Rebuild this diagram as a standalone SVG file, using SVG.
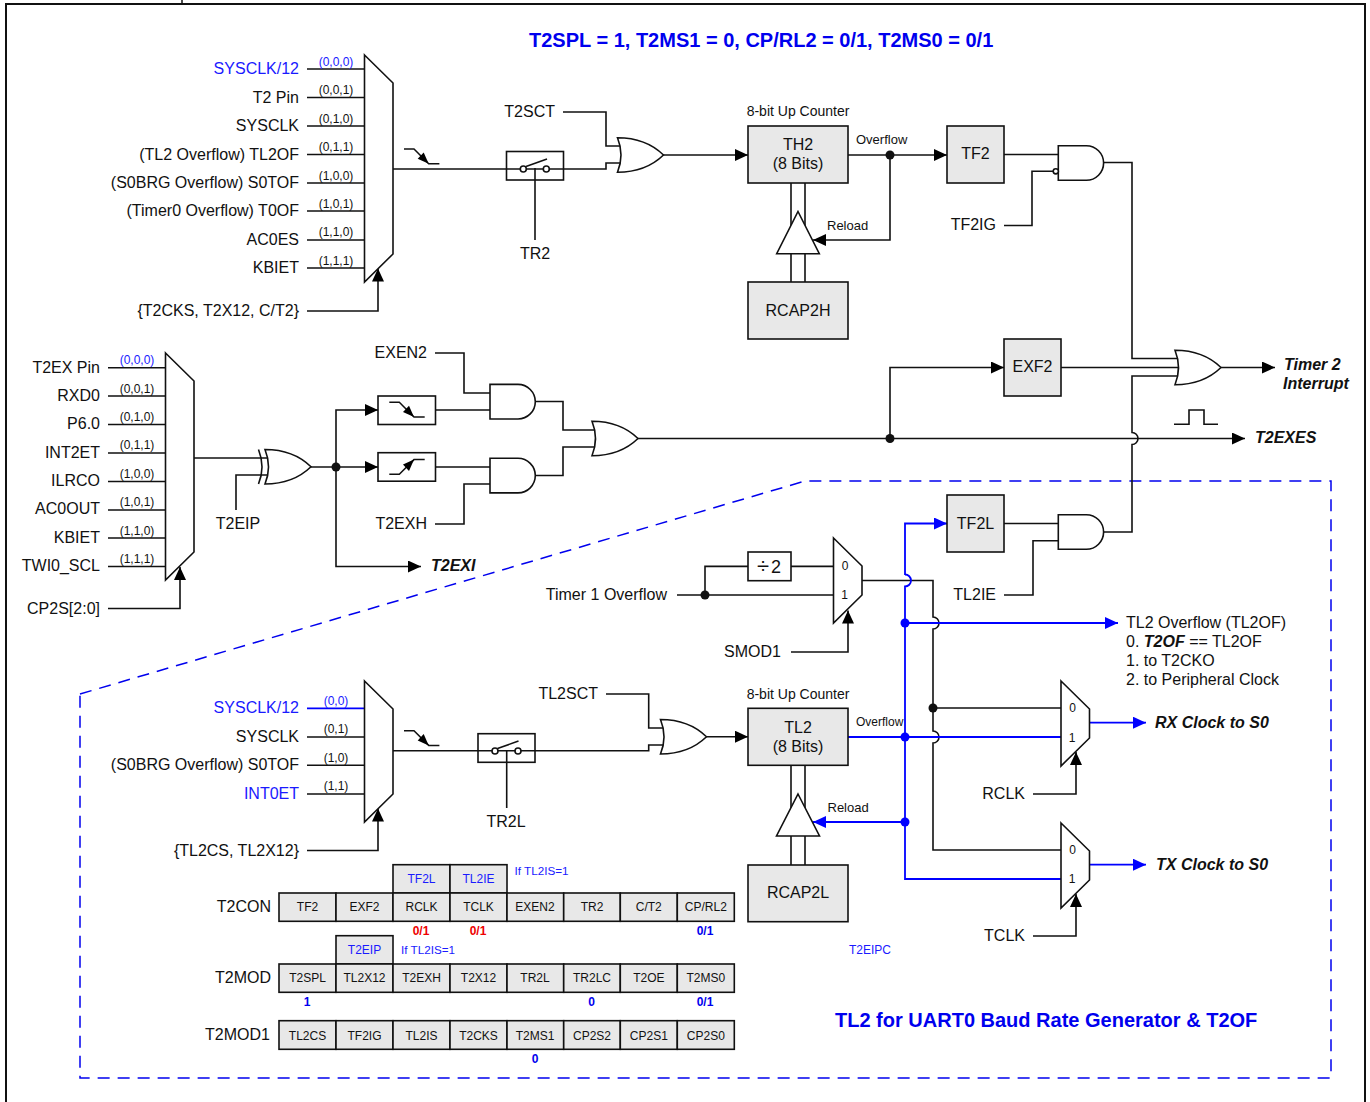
<svg xmlns="http://www.w3.org/2000/svg" width="1370" height="1102" viewBox="0 0 1370 1102">
<style>
text{font-family:"Liberation Sans",Arial,sans-serif;font-size:16px;fill:#111}
.r{text-anchor:end}.m{text-anchor:middle}
.s{font-size:12px}.o{font-size:13px}
.bl{fill:#1a1aff}
.t{font-size:20px;font-weight:bold;fill:#0000ee}
.bi{font-weight:bold;font-style:italic}
.c{font-size:12px;text-anchor:middle}
.v{font-size:12px;font-weight:bold;text-anchor:middle;fill:#0000ee}
.red{fill:#ee0000}
.w{fill:none;stroke:#111;stroke-width:1.6}
.wb{fill:none;stroke:#0000ff;stroke-width:1.8}
.a{marker-end:url(#ak)}.ab{marker-end:url(#ab)}
.g{fill:#fff;stroke:#111;stroke-width:1.6}
.reg{fill:#e8e8e8;stroke:#111;stroke-width:1.6}
.dk{fill:#111}.db{fill:#0000ff}
</style>
<defs>
<marker id="ak" markerUnits="userSpaceOnUse" markerWidth="14" markerHeight="14" refX="13" refY="6" orient="auto"><path d="M0,0L13,6L0,12z" fill="#000"/></marker>
<marker id="ab" markerUnits="userSpaceOnUse" markerWidth="14" markerHeight="14" refX="13" refY="6" orient="auto"><path d="M0,0L13,6L0,12z" fill="#0000ff"/></marker>
<path id="or" d="M0,0C21,0 36,7.5 46,17.3C36,27 21,34.5 0,34.5Q7,17.3 0,0Z"/>
<path id="and" d="M0,0H28A17.3,17.3 0 0 1 28,34.6H0Z"/>
<g id="fall"><polyline points="0,0 10,0 24.7,14.7 35.4,14.7" fill="none" stroke="#111" stroke-width="1.5"/><path d="M24.7,14.7L13.7,9.7L19.7,3.4Z" fill="#000"/></g>
<path id="mux8" d="M0,0L28.5,28V199L0,227Z"/>
<path id="mux4" d="M0,0L28.5,28V113L0,141Z"/>
<path id="mux2" d="M0,0L28.5,28V57L0,85Z"/>
</defs>
<rect width="1370" height="1102" fill="#fff"/>
<g id="frame">
<path d="M6,1102V4H1365V1102" fill="none" stroke="#111" stroke-width="2"/>
<path d="M182,0V4" fill="none" stroke="#111" stroke-width="1.5"/>
<path d="M80,694L805,481H1331V1078H80Z" fill="none" stroke="#0000ee" stroke-width="1.5" stroke-dasharray="12 8"/>
</g>
<g id="connectors">
<path class="w" d="M307,97.5H364M307,126H364M307,154.5H364M307,183H364M307,211H364M307,240H364M307,268H364M307,69H364"/>
<path class="w a" d="M307,311H378V268.5"/>
<path class="w" d="M393,169H606V163H622"/>
<path class="w" d="M563,112H606V146H622"/>
<path class="w a" d="M663,155H748"/>
<path class="w" d="M535,168V240"/>
<path class="w a" d="M848,155H947"/>
<path class="w a" d="M890,155V240H813"/>
<path class="w" d="M791,183V282M805,183V282"/>
<path class="w" d="M1004,154.5H1060"/>
<path class="w" d="M1004,225.5H1032V171.3H1053"/>
<path class="w" d="M1103,162.5H1132V358.5H1179"/>
<path class="w" d="M1061,367.5H1181"/>
<path class="w a" d="M1221,367.5H1275"/>
<path class="w" d="M1179,376H1132V432.5A6,6 0 0 1 1132,444.5V532H1104"/>
<path class="w" d="M1174,424.3H1189V410H1204V424.3H1218"/>
<path class="w" d="M108,367.7H165M108,396H165M108,424.5H165M108,453H165M108,481.5H165M108,510H165M108,538H165M108,566.5H165"/>
<path class="w a" d="M108,608.5H180V567"/>
<path class="w" d="M194,458H270"/>
<path class="w" d="M236,510V475H270"/>
<path class="w a" d="M310,467H378"/>
<path class="w a" d="M336,467V410H378"/>
<path class="w a" d="M336,467V566.5H421"/>
<path class="w" d="M436,410H492M436,467H492"/>
<path class="w" d="M435,353H464V393H492"/>
<path class="w" d="M435,524H464V484H492"/>
<path class="w" d="M534,401.5H563V430H598"/>
<path class="w" d="M534,475.5H563V447H598"/>
<path class="w a" d="M637,438.5H1245"/>
<path class="w a" d="M890,438.5V367.5H1004"/>
<path class="w" d="M1004,523.5H1060"/>
<path class="w" d="M1004,595H1033V540.7H1060"/>
<path class="w" d="M677,595H833M705,595V566.4H748M791,566.4H833"/>
<path class="w" d="M862,580.5H933V617A6,6 0 0 1 933,629V731A6,6 0 0 1 933,743V850H1061M933,708H1061"/>
<path class="w a" d="M791,652H848V610.5"/>
<path class="wb ab" d="M905,575V523.5H947"/>
<path class="wb" d="M905,574.5A6,6 0 0 1 905,586.5V879H1061"/>
<path class="wb ab" d="M905,623H1118"/>
<path class="wb" d="M848,737H1061"/>
<path class="wb ab" d="M905,822H813"/>
<path class="wb ab" d="M1090,722.7H1146"/>
<path class="wb ab" d="M1090,864.7H1146"/>
<path class="w a" d="M1033,794H1076V752"/>
<path class="w a" d="M1033,936H1076V894"/>
<path class="wb" d="M307,708.3H364"/>
<path class="w" d="M307,737H364M307,765.3H364M307,794H364"/>
<path class="w a" d="M307,850.5H378V808.5"/>
<path class="w" d="M393,750.7H648.7V745H664"/>
<path class="w" d="M606,694H648.7V728H664"/>
<path class="w a" d="M705,736.7H748"/>
<path class="w" d="M506.7,750V808"/>
<path class="w" d="M791,765V865M805,765V865"/>
<circle class="dk" cx="890" cy="155" r="4.5"/>
<circle class="dk" cx="890" cy="438.5" r="4.5"/>
<circle class="dk" cx="336" cy="467" r="4.5"/>
<circle class="dk" cx="705" cy="595" r="4.5"/>
<circle class="dk" cx="933" cy="708" r="4.5"/>
<circle class="db" cx="905" cy="623" r="4.5"/>
<circle class="db" cx="905" cy="737" r="4.5"/>
<circle class="db" cx="905" cy="822" r="4.5"/>
</g>
<g id="title"><text class="t" x="529" y="47">T2SPL = 1, T2MS1 = 0, CP/RL2 = 0/1, T2MS0 = 0/1</text></g>
<g id="mux-t2-clock">
<use href="#mux8" x="364.5" y="55" class="g"/>
<text class="r bl" x="299" y="74">SYSCLK/12</text>
<text class="r" x="299" y="103">T2 Pin</text>
<text class="r" x="299" y="131">SYSCLK</text>
<text class="r" x="299" y="159.5">(TL2 Overflow) TL2OF</text>
<text class="r" x="299" y="188">(S0BRG Overflow) S0TOF</text>
<text class="r" x="299" y="216">(Timer0 Overflow) T0OF</text>
<text class="r" x="299" y="245">AC0ES</text>
<text class="r" x="299" y="273">KBIET</text>
<text class="r" x="299" y="316">{T2CKS, T2X12, C/T2}</text>
<text class="s m bl" x="336" y="66">(0,0,0)</text>
<text class="s m" x="336" y="94">(0,0,1)</text>
<text class="s m" x="336" y="123">(0,1,0)</text>
<text class="s m" x="336" y="151">(0,1,1)</text>
<text class="s m" x="336" y="180">(1,0,0)</text>
<text class="s m" x="336" y="208">(1,0,1)</text>
<text class="s m" x="336" y="236">(1,1,0)</text>
<text class="s m" x="336" y="265">(1,1,1)</text>
<use href="#fall" x="404" y="149"/>
</g>
<g id="switch-tr2">
<rect class="g" x="506.5" y="151.5" width="57" height="28.5" style="fill:none"/>
<circle class="g" cx="523.3" cy="169" r="3"/><circle class="g" cx="546.3" cy="169" r="3"/>
<path class="w" d="M526,166.5L547,159"/>
<text class="m" x="535" y="258.5">TR2</text>
</g>
<g id="or-t2"><use href="#or" x="617.5" y="137.7" class="g"/><text class="r" x="555" y="117">T2SCT</text></g>
<g id="th2">
<text class="m" style="font-size:14px" x="798" y="116">8-bit Up Counter</text>
<rect class="reg" x="748" y="126" width="100" height="57"/>
<text class="m" x="798" y="150">TH2</text><text class="m" x="798" y="169">(8 Bits)</text>
<text class="o" x="856" y="144">Overflow</text>
</g>
<g id="reload-h">
<path class="g" d="M798,211.5L819.3,253.7H776.7Z"/>
<text class="o" x="827" y="230">Reload</text>
</g>
<g id="rcap2h"><rect class="reg" x="748" y="282" width="100" height="57"/><text class="m" x="798" y="316">RCAP2H</text></g>
<g id="tf2"><rect class="reg" x="947" y="126" width="57" height="57"/><text class="m" x="975.5" y="159">TF2</text></g>
<g id="and-tf2"><use href="#and" x="1058.3" y="145.7" class="g"/><circle class="g" cx="1055.8" cy="171.3" r="2.6"/><text class="r" x="996" y="230">TF2IG</text></g>
<g id="exf2"><rect class="reg" x="1004" y="339" width="57" height="57"/><text class="m" x="1032.5" y="372">EXF2</text></g>
<g id="or-int"><use href="#or" x="1175" y="350.2" class="g"/>
<text class="bi" x="1284" y="370">Timer 2</text><text class="bi" x="1283" y="389">Interrupt</text></g>
<g id="t2exes"><text class="bi" x="1255" y="443">T2EXES</text></g>
<g id="mux-t2ex">
<use href="#mux8" x="165.5" y="353" class="g"/>
<text class="r" x="100" y="372.5">T2EX Pin</text>
<text class="r" x="100" y="401">RXD0</text>
<text class="r" x="100" y="429">P6.0</text>
<text class="r" x="100" y="458">INT2ET</text>
<text class="r" x="100" y="486">ILRCO</text>
<text class="r" x="100" y="514">AC0OUT</text>
<text class="r" x="100" y="543">KBIET</text>
<text class="r" x="100" y="571">TWI0_SCL</text>
<text class="r" x="100" y="614">CP2S[2:0]</text>
<text class="s m bl" x="137" y="364">(0,0,0)</text>
<text class="s m" x="137" y="393">(0,0,1)</text>
<text class="s m" x="137" y="421">(0,1,0)</text>
<text class="s m" x="137" y="449">(0,1,1)</text>
<text class="s m" x="137" y="478">(1,0,0)</text>
<text class="s m" x="137" y="506">(1,0,1)</text>
<text class="s m" x="137" y="535">(1,1,0)</text>
<text class="s m" x="137" y="563">(1,1,1)</text>
</g>
<g id="xor-t2eip">
<use href="#or" x="265" y="449.5" class="g"/>
<path class="w" d="M258.5,449.5Q265.5,467 258.5,484"/>
<text class="m" x="238" y="529">T2EIP</text>
</g>
<g id="edge-fall"><rect class="reg" style="fill:#fff" x="378" y="396" width="57.5" height="28.5"/><use href="#fall" x="389.3" y="402.3"/></g>
<g id="edge-rise"><rect class="reg" style="fill:#fff" x="378" y="452.7" width="57.5" height="28.5"/><use href="#fall" transform="translate(389.3,474.3) scale(1,-1)"/></g>
<g id="t2exi"><text class="bi" x="431" y="571">T2EXI</text></g>
<g id="and-exen2"><use href="#and" x="490" y="384.4" class="g"/><text class="r" x="427" y="358">EXEN2</text></g>
<g id="and-t2exh"><use href="#and" x="490" y="458.3" class="g"/><text class="r" x="427" y="529">T2EXH</text></g>
<g id="or-ex"><use href="#or" x="592" y="421.2" class="g"/></g>
<g id="tf2l"><rect class="reg" x="947" y="495" width="57" height="57"/><text class="m" x="975.5" y="529">TF2L</text></g>
<g id="and-tf2l"><use href="#and" x="1058.3" y="514.7" class="g"/><text class="r" x="996" y="600">TL2IE</text></g>
<g id="div2"><rect class="g" x="748" y="552" width="43" height="28.7"/><text class="m" x="769" y="572.5" style="font-size:18px"><tspan style="font-size:22px">÷</tspan><tspan dx="2">2</tspan></text></g>
<g id="mux-smod1"><use href="#mux2" x="833.5" y="538" class="g"/>
<text class="s m" x="845" y="570">0</text><text class="s m" x="844.5" y="599">1</text>
<text class="r" x="667" y="599.5">Timer 1 Overflow</text>
<text class="r" x="781" y="657">SMOD1</text></g>
<g id="tl2of-note">
<text x="1126" y="628">TL2 Overflow (TL2OF)</text>
<text x="1126" y="646.5">0. <tspan class="bi">T2OF</tspan> == TL2OF</text>
<text x="1126" y="666">1. to T2CKO</text>
<text x="1126" y="685">2. to Peripheral Clock</text>
</g>
<g id="mux-rx"><use href="#mux2" x="1061" y="681" class="g"/>
<text class="s m" x="1072.5" y="712">0</text><text class="s m" x="1072" y="741.5">1</text>
<text class="bi" x="1155" y="728">RX Clock to S0</text>
<text class="r" x="1025" y="799">RCLK</text></g>
<g id="mux-tx"><use href="#mux2" x="1061" y="823" class="g"/>
<text class="s m" x="1072.5" y="854">0</text><text class="s m" x="1072" y="883">1</text>
<text class="bi" x="1156" y="870">TX Clock to S0</text>
<text class="r" x="1025" y="941">TCLK</text></g>
<g id="mux-tl2">
<use href="#mux4" x="364.5" y="681" class="g"/>
<text class="r bl" x="299" y="713">SYSCLK/12</text>
<text class="r" x="299" y="742">SYSCLK</text>
<text class="r" x="299" y="770">(S0BRG Overflow) S0TOF</text>
<text class="r bl" x="299" y="799">INT0ET</text>
<text class="r" x="299" y="855.5">{TL2CS, TL2X12}</text>
<text class="s m bl" x="336" y="705">(0,0)</text>
<text class="s m" x="336" y="733">(0,1)</text>
<text class="s m" x="336" y="762">(1,0)</text>
<text class="s m" x="336" y="790">(1,1)</text>
<use href="#fall" x="404" y="730.7"/>
</g>
<g id="switch-tr2l">
<rect class="g" x="478" y="733.7" width="57" height="28.6" style="fill:none"/>
<circle class="g" cx="495" cy="751" r="3"/><circle class="g" cx="518" cy="751" r="3"/>
<path class="w" d="M497.5,748.5L518.5,741"/>
<text class="m" x="506" y="826.5">TR2L</text>
</g>
<g id="or-tl2"><use href="#or" x="660.5" y="719.5" class="g"/><text class="r" x="598" y="699">TL2SCT</text></g>
<g id="tl2">
<text class="m" style="font-size:14px" x="798" y="699">8-bit Up Counter</text>
<rect class="reg" x="748" y="708.3" width="100" height="57"/>
<text class="m" x="798" y="733">TL2</text><text class="m" x="798" y="752">(8 Bits)</text>
<text class="s" x="856" y="726">Overflow</text>
</g>
<g id="reload-l">
<path class="g" d="M798,794L819.5,836H776.5Z"/>
<text class="o" x="827.5" y="812">Reload</text>
</g>
<g id="rcap2l"><rect class="reg" x="748" y="865" width="100" height="56.7"/><text class="m" x="798" y="898">RCAP2L</text></g>
<g id="reg-t2con">
<text class="r" x="271" y="911.5">T2CON</text>
<rect class="reg" x="393" y="864.7" width="57" height="28.3"/><text class="c bl" x="421.5" y="883">TF2L</text>
<rect class="reg" x="450" y="864.7" width="57" height="28.3"/><text class="c bl" x="478.5" y="883">TL2IE</text>
<rect class="reg" x="279" y="893" width="57" height="28.3"/><text class="c" x="307.5" y="911">TF2</text>
<rect class="reg" x="336" y="893" width="57" height="28.3"/><text class="c" x="364.5" y="911">EXF2</text>
<rect class="reg" x="393" y="893" width="57" height="28.3"/><text class="c" x="421.5" y="911">RCLK</text>
<rect class="reg" x="450" y="893" width="57" height="28.3"/><text class="c" x="478.5" y="911">TCLK</text>
<rect class="reg" x="507" y="893" width="56.7" height="28.3"/><text class="c" x="535" y="911">EXEN2</text>
<rect class="reg" x="563.7" y="893" width="56.6" height="28.3"/><text class="c" x="592" y="911">TR2</text>
<rect class="reg" x="620.3" y="893" width="57" height="28.3"/><text class="c" x="648.8" y="911">C/T2</text>
<rect class="reg" x="677.3" y="893" width="57" height="28.3"/><text class="c" x="705.8" y="911">CP/RL2</text>
<text class="s bl" style="font-size:11.7px" x="514.5" y="875">If TL2IS=1</text>
<text class="v red" x="421" y="935">0/1</text><text class="v red" x="478" y="935">0/1</text><text class="v" x="705" y="935">0/1</text>
</g>
<g id="reg-t2mod">
<text class="r" x="271" y="982.5">T2MOD</text>
<rect class="reg" x="336" y="935.7" width="57" height="28.3"/><text class="c bl" x="364.5" y="954">T2EIP</text>
<rect class="reg" x="279" y="964" width="57" height="28.3"/><text class="c" x="307.5" y="982">T2SPL</text>
<rect class="reg" x="336" y="964" width="57" height="28.3"/><text class="c" x="364.5" y="982">TL2X12</text>
<rect class="reg" x="393" y="964" width="57" height="28.3"/><text class="c" x="421.5" y="982">T2EXH</text>
<rect class="reg" x="450" y="964" width="57" height="28.3"/><text class="c" x="478.5" y="982">T2X12</text>
<rect class="reg" x="507" y="964" width="56.7" height="28.3"/><text class="c" x="535" y="982">TR2L</text>
<rect class="reg" x="563.7" y="964" width="56.6" height="28.3"/><text class="c" x="592" y="982">TR2LC</text>
<rect class="reg" x="620.3" y="964" width="57" height="28.3"/><text class="c" x="648.8" y="982">T2OE</text>
<rect class="reg" x="677.3" y="964" width="57" height="28.3"/><text class="c" x="705.8" y="982">T2MS0</text>
<text class="s bl" style="font-size:11.7px" x="401" y="954">If TL2IS=1</text>
<text class="v" x="307" y="1006">1</text><text class="v" x="591.5" y="1006">0</text><text class="v" x="705" y="1006">0/1</text>
</g>
<g id="reg-t2mod1">
<text class="r" x="270" y="1040">T2MOD1</text>
<rect class="reg" x="279" y="1020.7" width="57" height="28.6"/><text class="c" x="307.5" y="1039.5">TL2CS</text>
<rect class="reg" x="336" y="1020.7" width="57" height="28.6"/><text class="c" x="364.5" y="1039.5">TF2IG</text>
<rect class="reg" x="393" y="1020.7" width="57" height="28.6"/><text class="c" x="421.5" y="1039.5">TL2IS</text>
<rect class="reg" x="450" y="1020.7" width="57" height="28.6"/><text class="c" x="478.5" y="1039.5">T2CKS</text>
<rect class="reg" x="507" y="1020.7" width="56.7" height="28.6"/><text class="c" x="535" y="1039.5">T2MS1</text>
<rect class="reg" x="563.7" y="1020.7" width="56.6" height="28.6"/><text class="c" x="592" y="1039.5">CP2S2</text>
<rect class="reg" x="620.3" y="1020.7" width="57" height="28.6"/><text class="c" x="648.8" y="1039.5">CP2S1</text>
<rect class="reg" x="677.3" y="1020.7" width="57" height="28.6"/><text class="c" x="705.8" y="1039.5">CP2S0</text>
<text class="v" x="535" y="1063">0</text>
</g>
<g id="notes">
<text class="s bl" x="849" y="954">T2EIPC</text>
<text class="t" x="835" y="1026.5">TL2 for UART0 Baud Rate Generator &amp; T2OF</text>
</g>
</svg>
